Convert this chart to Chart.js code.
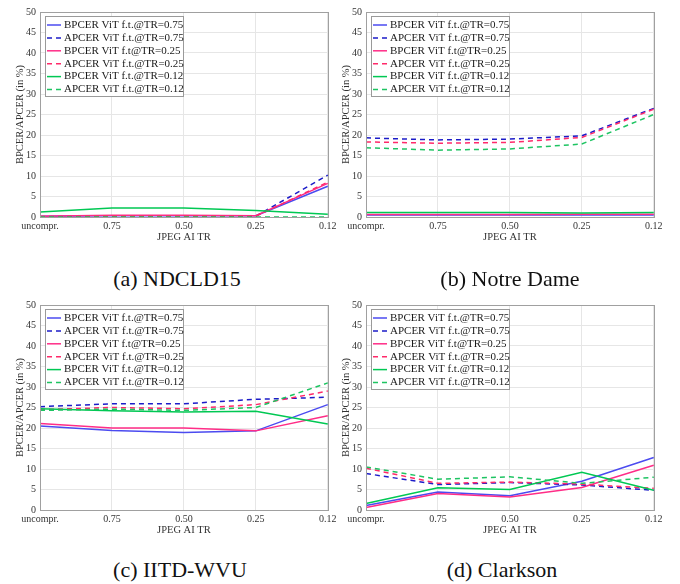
<!DOCTYPE html>
<html>
<head>
<meta charset="utf-8">
<script src="https://cdn.jsdelivr.net/npm/chart.js@4"></script>
<style>
  body { margin: 0; background: #fff; width: 680px; height: 584px; position: relative; overflow: hidden; }
  .panel { position: absolute; width: 340px; height: 250px; }
  .caption { position: absolute; font-family: "Liberation Serif", serif; font-size: 22px; color: #111; white-space: nowrap; transform: translate(-50%, -50%); }
</style>
</head>
<body>
<div class="panel" style="left:0;top:0"><canvas id="chart-a" width="340" height="250"></canvas></div>
<div class="panel" style="left:326px;top:0"><canvas id="chart-b" width="340" height="250"></canvas></div>
<div class="panel" style="left:0;top:293px"><canvas id="chart-c" width="340" height="250"></canvas></div>
<div class="panel" style="left:326px;top:293px"><canvas id="chart-d" width="340" height="250"></canvas></div>
<div class="caption" style="left:177px;top:279px">(a) NDCLD15</div>
<div class="caption" style="left:510px;top:279px">(b) Notre Dame</div>
<div class="caption" style="left:180px;top:570px">(c) IITD-WVU</div>
<div class="caption" style="left:502px;top:570px">(d) Clarkson</div>

<script>
// x axis categories (JPEG AI target rate)
const categories = ['uncompr.', '0.75', '0.50', '0.25', '0.12'];

const seriesLabels = [
    'BPCER ViT f.t.@TR=0.75',
    'APCER ViT f.t.@TR=0.75',
    'BPCER ViT f.t@TR=0.25',
    'APCER ViT f.t.@TR=0.25',
    'BPCER ViT f.t.@TR=0.12',
    'APCER ViT f.t.@TR=0.12'
];

// (a) NDCLD15
const ndBpcer75 = [0.2, 0.3, 0.3, 0.3, 7.5];
const ndApcer75 = [0.0, 0.2, 0.2, 0.2, 10.2];
const ndBpcer25 = [0.2, 0.4, 0.4, 0.3, 8.2];
const ndApcer25 = [0.1, 0.2, 0.2, 0.2, 8.5];
const ndBpcer12 = [1.2, 2.2, 2.2, 1.6, 0.7];
const ndApcer12 = [0.0, 0.0, 0.0, 0.0, 0.0];

// (b) Notre Dame
const nbBpcer75 = [0.5, 0.5, 0.5, 0.5, 0.5];
const nbApcer75 = [19.3, 18.8, 19.0, 19.8, 26.5];
const nbBpcer25 = [0.6, 0.6, 0.6, 0.7, 0.7];
const nbApcer25 = [18.3, 18.0, 18.2, 19.4, 26.3];
const nbBpcer12 = [1.1, 1.1, 1.1, 1.0, 1.1];
const nbApcer12 = [16.9, 16.3, 16.6, 17.8, 25.0];

// (c) IITD-WVU
const iiBpcer75 = [20.5, 19.4, 18.9, 19.3, 25.7];
const iiApcer75 = [25.2, 25.9, 25.9, 27.0, 27.5];
const iiBpcer25 = [21.1, 20.0, 20.0, 19.3, 23.0];
const iiApcer25 = [24.5, 25.0, 24.7, 25.7, 29.0];
const iiBpcer12 = [24.7, 24.2, 23.9, 24.1, 21.0];
const iiApcer12 = [24.3, 24.6, 24.3, 25.0, 31.0];

// (d) Clarkson
const clBpcer75 = [1.1, 4.4, 3.5, 7.0, 12.8];
const clApcer75 = [8.9, 6.2, 6.7, 6.1, 4.8];
const clBpcer25 = [0.6, 4.0, 3.2, 5.5, 10.9];
const clApcer25 = [10.2, 6.5, 6.8, 6.3, 5.3];
const clBpcer12 = [1.6, 5.4, 5.0, 9.2, 4.8];
const clApcer12 = [10.5, 7.5, 8.1, 6.5, 8.0];

const lineColors = ['#4b4bf0', '#1c1cc8', '#ff2d87', '#ff2a6a', '#00c853', '#1ec462'];
const serif = '"Liberation Serif", "Times New Roman", serif';

// frame around the plot area (MATLAB "box on")
const boxFrame = {
    id: 'boxFrame',
    afterDatasetsDraw(chart) {
        const { ctx, chartArea: a } = chart;
        ctx.save();
        ctx.strokeStyle = '#a0a0a0';
        ctx.lineWidth = 1;
        ctx.strokeRect(Math.round(a.left) + 0.5, Math.round(a.top) + 0.5,
            Math.round(a.right - a.left), Math.round(a.bottom - a.top));
        ctx.restore();
    }
};

// legend box in the upper-left corner of the plot
const boxLegend = {
    id: 'boxLegend',
    afterDraw(chart) {
        const { ctx, chartArea } = chart;
        const x = Math.round(chartArea.left) + 5;
        const y = Math.round(chartArea.top) + 4;
        ctx.save();
        ctx.fillStyle = '#fff';
        ctx.fillRect(x, y, 138, 80);
        ctx.strokeStyle = '#9a9a9a';
        ctx.lineWidth = 1;
        ctx.strokeRect(x + 0.5, y + 0.5, 138, 80);
        ctx.font = '11px ' + serif;
        ctx.textBaseline = 'middle';
        chart.data.datasets.forEach((ds, i) => {
            const ly = y + 9 + i * 12.9;
            ctx.strokeStyle = ds.borderColor;
            ctx.lineWidth = 1.5;
            ctx.setLineDash(ds.borderDash || []);
            ctx.beginPath();
            ctx.moveTo(x + 2, ly);
            ctx.lineTo(x + 16, ly);
            ctx.stroke();
            ctx.setLineDash([]);
            ctx.fillStyle = '#1a1a1a';
            ctx.fillText(ds.label, x + 19, ly);
        });
        ctx.restore();
    }
};

function makeChart(id, values) {
    const ctx = document.getElementById(id).getContext('2d');
    return new Chart(ctx, {
        type: 'line',
        data: {
            labels: categories,
            datasets: values.map((v, i) => ({
                label: seriesLabels[i],
                data: v,
                borderColor: lineColors[i],
                borderWidth: 1.5,
                borderDash: i % 2 === 1 ? [5, 4] : [],
                pointRadius: 0,
                tension: 0,
                fill: false,
                order: 6 - i
            }))
        },
        options: {
            responsive: false,
            animation: false,
            layout: { padding: { top: 12, right: 10, left: 0, bottom: 0 } },
            plugins: {
                legend: { display: false },
                tooltip: { enabled: false }
            },
            scales: {
                x: {
                    offset: false,
                    grid: { color: '#e6e6e6', drawTicks: false },
                    border: { display: false },
                    ticks: { color: '#333', padding: 3.5, maxRotation: 0, autoSkip: false, font: { family: serif, size: 10 } },
                    title: { display: true, text: 'JPEG AI TR', color: '#333', padding: { top: 0, bottom: 6 }, font: { family: serif, size: 10.5 } },
                    afterFit(scale) { scale.height = 33; }
                },
                y: {
                    min: 0,
                    max: 50,
                    grid: { color: '#e6e6e6', drawTicks: false },
                    border: { display: false },
                    ticks: { stepSize: 5, color: '#333', padding: 4, font: { family: serif, size: 10 } },
                    title: { display: true, text: 'BPCER/APCER (in %)', color: '#333', padding: { top: 13.5, bottom: 0 }, font: { family: serif, size: 10.5 } },
                    afterFit(scale) { scale.width = 40; }
                }
            }
        },
        plugins: [boxFrame, boxLegend]
    });
}

makeChart('chart-a', [ndBpcer75, ndApcer75, ndBpcer25, ndApcer25, ndBpcer12, ndApcer12]);
makeChart('chart-b', [nbBpcer75, nbApcer75, nbBpcer25, nbApcer25, nbBpcer12, nbApcer12]);
makeChart('chart-c', [iiBpcer75, iiApcer75, iiBpcer25, iiApcer25, iiBpcer12, iiApcer12]);
makeChart('chart-d', [clBpcer75, clApcer75, clBpcer25, clApcer25, clBpcer12, clApcer12]);
</script>
</body>
</html>
